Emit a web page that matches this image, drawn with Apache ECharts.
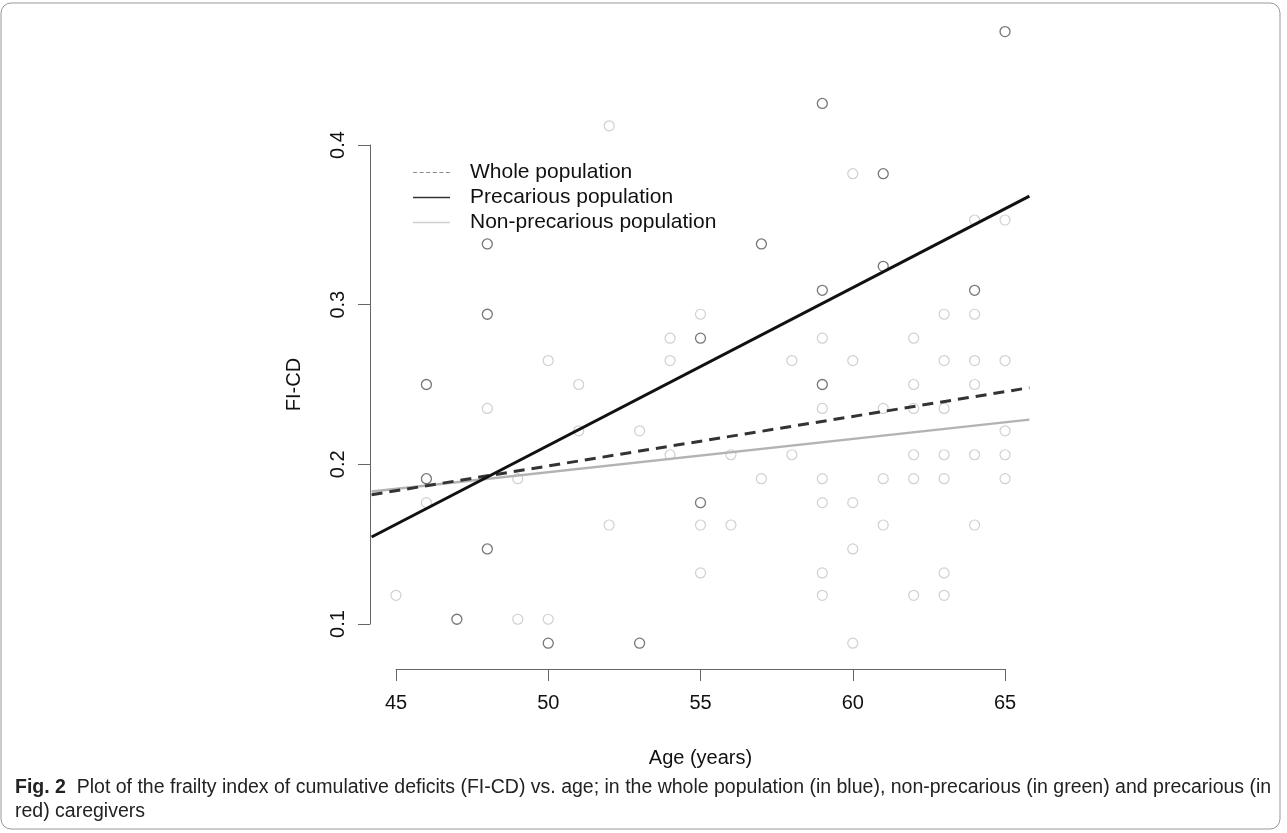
<!DOCTYPE html>
<html>
<head>
<meta charset="utf-8">
<script src="https://cdn.jsdelivr.net/npm/echarts@6/dist/echarts.min.js"></script>
<style>
  html, body { margin: 0; padding: 0; background: #fff; }
  #chart { width: 1287px; height: 833px; }
</style>
</head>
<body>
<div id="chart"></div>
<script>
// precarious caregivers (dark circles)
const precAge = [46, 46, 47, 48, 48, 48, 50, 53, 55, 55, 57, 59, 59, 59, 61, 61, 64, 65];
const precFI  = [0.25, 0.191, 0.103, 0.338, 0.294, 0.147, 0.088, 0.088, 0.279, 0.176, 0.338, 0.426, 0.309, 0.25, 0.382, 0.324, 0.309, 0.471];

// non-precarious caregivers (light circles)
const nonAge = [45, 46, 48, 49, 49, 50, 50, 51, 51, 52, 52, 53, 54, 54, 54, 55, 55, 55, 56, 56, 57, 58, 58,
  59, 59, 59, 59, 59, 59, 60, 60, 60, 60, 60, 61, 61, 61, 62, 62, 62, 62, 62, 62,
  63, 63, 63, 63, 63, 63, 63, 64, 64, 64, 64, 64, 64, 65, 65, 65, 65, 65];
const nonFI  = [0.118, 0.176, 0.235, 0.191, 0.103, 0.265, 0.103, 0.25, 0.221, 0.412, 0.162, 0.221, 0.279, 0.265, 0.206, 0.294, 0.162, 0.132, 0.206, 0.162, 0.191, 0.265, 0.206,
  0.279, 0.235, 0.191, 0.176, 0.132, 0.118, 0.382, 0.265, 0.176, 0.147, 0.088, 0.235, 0.191, 0.162, 0.279, 0.25, 0.235, 0.206, 0.191, 0.118,
  0.294, 0.265, 0.235, 0.206, 0.191, 0.132, 0.118, 0.353, 0.294, 0.265, 0.25, 0.206, 0.162, 0.353, 0.265, 0.221, 0.206, 0.191];

// fitted lines, read at the plot edges
const fitAge   = [44.2, 65.8];
const fitWhole = [0.181, 0.248];
const fitPrec  = [0.1545, 0.368];
const fitNon   = [0.183, 0.228];

const xTicks = [45, 50, 55, 60, 65];
const yTicks = [0.1, 0.2, 0.3, 0.4];
const legendNames = ['Whole population', 'Precarious population', 'Non-precarious population'];

const pairs = (xs, ys) => xs.map((x, i) => [x, ys[i]]);

// small dashed-line icon for the legend
const dashIcon = 'path://M0,0h4v1h-4zM6.5,0h4v1h-4zM13,0h4v1h-4zM19.5,0h4v1h-4zM26,0h4v1h-4zM32.5,0h4v1h-4z';

let chart = echarts.init(document.getElementById('chart'));
let font = 'Liberation Sans, Arial, sans-serif';
let option = {
  animation: false,
  backgroundColor: '#fff',
  textStyle: { fontFamily: font },
  title: {
    left: 10,
    top: 771,
    text: '{b|Fig. 2}  Plot of the frailty index of cumulative deficits (FI-CD) vs. age; in the whole population (in blue), non-precarious (in green) and precarious (in\nred) caregivers',
    textStyle: {
      fontFamily: font, fontSize: 19.5, fontWeight: 'normal', color: '#222', lineHeight: 24,
      rich: {
        b: { fontFamily: font, fontSize: 19.5, fontWeight: 'bold', color: '#222', lineHeight: 24 }
      }
    }
  },
  graphic: [{
    type: 'rect',
    shape: { x: 1, y: 3, width: 1279, height: 826, r: 10 },
    style: { fill: 'none', stroke: '#999', lineWidth: 1 },
    silent: true
  }],
  legend: {
    orient: 'vertical',
    left: 408,
    top: 157,
    itemWidth: 37,
    itemHeight: 1.5,
    itemGap: 4,
    selectedMode: false,
    textStyle: { fontSize: 21, color: '#111', padding: [0, 0, 0, 15], lineHeight: 21 },
    data: [
      { name: legendNames[0], icon: dashIcon, itemStyle: { color: '#8a8a8a' } },
      { name: legendNames[1], icon: 'rect', itemStyle: { color: '#333' } },
      { name: legendNames[2], icon: 'rect', itemStyle: { color: '#cfcfcf' } }
    ]
  },
  grid: [
    { left: 371.6, right: 257.6, top: 7.8, bottom: 165.7 },
    { left: 396, right: 282, top: 145, bottom: 209 }
  ],
  xAxis: [
    { gridIndex: 0, type: 'value', min: 44.2, max: 65.8, show: false },
    {
      gridIndex: 1, type: 'value', min: xTicks[0], max: xTicks[xTicks.length - 1], interval: 5,
      position: 'bottom', offset: 45,
      name: 'Age (years)', nameLocation: 'middle', nameGap: 79,
      nameTextStyle: { fontSize: 20, color: '#111' },
      axisLine: { show: true, lineStyle: { color: '#666', width: 1 } },
      axisTick: { show: true, length: 12, lineStyle: { color: '#666' } },
      axisLabel: { fontSize: 20, color: '#111', margin: 24 },
      splitLine: { show: false }
    }
  ],
  yAxis: [
    { gridIndex: 0, type: 'value', min: 0.0729, max: 0.4859, show: false },
    {
      gridIndex: 1, type: 'value', min: yTicks[0], max: yTicks[yTicks.length - 1], interval: 0.1,
      position: 'left', offset: 26,
      name: 'FI-CD', nameLocation: 'middle', nameGap: 66, nameRotate: 90,
      nameTextStyle: { fontSize: 20, color: '#111' },
      axisLine: { show: true, lineStyle: { color: '#666', width: 1 } },
      axisTick: { show: true, length: 12, lineStyle: { color: '#666' } },
      axisLabel: { fontSize: 20, color: '#111', margin: 22, rotate: 90, formatter: v => v.toFixed(1) },
      splitLine: { show: false }
    }
  ],
  series: [
    {
      name: 'non', type: 'scatter', xAxisIndex: 0, yAxisIndex: 0,
      data: pairs(nonAge, nonFI), symbol: 'circle', symbolSize: 10,
      itemStyle: { color: 'rgba(0,0,0,0)', borderColor: '#c4c4c4', borderWidth: 1.2 }
    },
    {
      name: 'prec', type: 'scatter', xAxisIndex: 0, yAxisIndex: 0,
      data: pairs(precAge, precFI), symbol: 'circle', symbolSize: 10,
      itemStyle: { color: 'rgba(0,0,0,0)', borderColor: '#555', borderWidth: 1.3 }
    },
    {
      name: legendNames[2], type: 'line', xAxisIndex: 0, yAxisIndex: 0,
      data: pairs(fitAge, fitNon), symbol: 'none',
      lineStyle: { color: '#b3b3b3', width: 2.5 }
    },
    {
      name: legendNames[0], type: 'line', xAxisIndex: 0, yAxisIndex: 0,
      data: pairs(fitAge, fitWhole), symbol: 'none',
      lineStyle: { color: '#333', width: 3, type: [11, 7] }
    },
    {
      name: legendNames[1], type: 'line', xAxisIndex: 0, yAxisIndex: 0,
      data: pairs(fitAge, fitPrec), symbol: 'none',
      lineStyle: { color: '#111', width: 3 }
    }
  ]
};
chart.setOption(option);
</script>
</body>
</html>
